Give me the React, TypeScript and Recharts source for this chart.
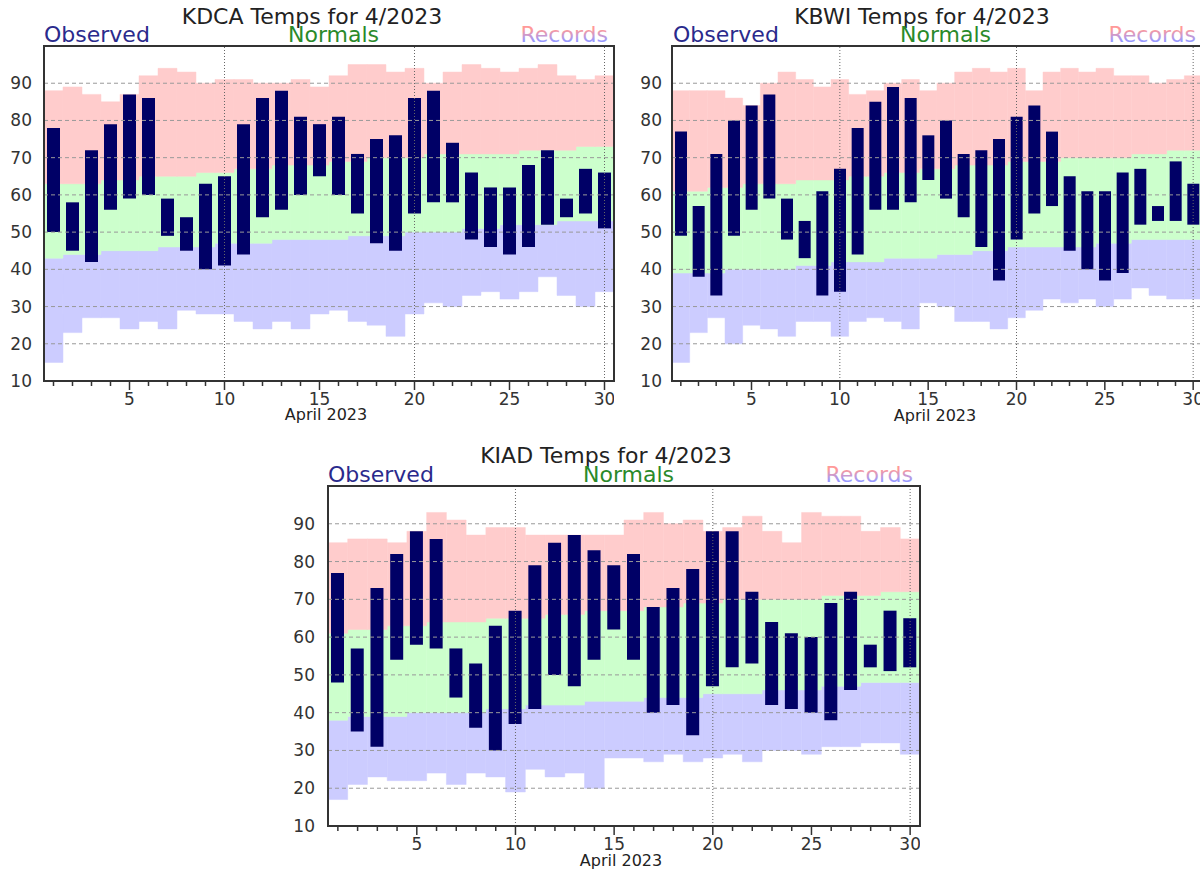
import { ComposedChart, Bar, XAxis, YAxis, ReferenceLine } from 'recharts'

const FONT = '"DejaVu Sans", Verdana, sans-serif'
const PINK  = '#ffcccc'
const GREEN = '#ccffcc'
const BLUE  = '#ccccff'
const NAVY  = '#000066'

const days = [1, 2, 3, 4, 5, 6, 7, 8, 9, 10, 11, 12, 13, 14, 15, 16, 17, 18, 19, 20, 21, 22, 23, 24, 25, 26, 27, 28, 29, 30]
const yTicks = [10, 20, 30, 40, 50, 60, 70, 80, 90]
const gridTemps = [20, 30, 40, 50, 60, 70, 80, 90]
const gridDays = [10, 20, 30]

// KDCA
const dcaObsHi  = [78, 58, 72, 79, 87, 86, 59, 54, 63, 65, 79, 86, 88, 81, 79, 81, 71, 75, 76, 86, 88, 74, 66, 62, 62, 68, 72, 59, 67, 66]
const dcaObsLo  = [50, 45, 42, 56, 59, 60, 49, 45, 40, 41, 44, 54, 56, 60, 65, 60, 55, 47, 45, 55, 58, 58, 48, 46, 44, 46, 52, 54, 55, 51]
const dcaRecHi  = [88, 89, 87, 85, 87, 92, 94, 93, 90, 91, 91, 90, 90, 91, 89, 92, 95, 95, 93, 94, 90, 93, 95, 94, 93, 94, 95, 92, 91, 92]
const dcaNormHi = [63, 63, 63, 64, 64, 65, 65, 65, 66, 66, 67, 67, 68, 68, 68, 69, 69, 70, 70, 70, 71, 71, 71, 71, 71, 72, 72, 72, 73, 73]
const dcaNormLo = [43, 44, 44, 45, 45, 45, 46, 46, 46, 47, 47, 47, 48, 48, 48, 48, 49, 49, 49, 50, 50, 50, 51, 51, 52, 52, 52, 53, 53, 53]
const dcaRecLo  = [15, 23, 27, 27, 24, 26, 24, 29, 28, 28, 26, 24, 26, 24, 28, 29, 26, 25, 22, 28, 31, 30, 33, 34, 32, 34, 38, 33, 30, 34]

// KBWI
const bwiObsHi  = [77, 57, 71, 80, 84, 87, 59, 53, 61, 67, 78, 85, 89, 86, 76, 80, 71, 72, 75, 81, 84, 77, 65, 61, 61, 66, 67, 57, 69, 63]
const bwiObsLo  = [49, 38, 33, 49, 56, 59, 48, 43, 33, 34, 44, 56, 56, 58, 64, 59, 54, 46, 37, 48, 55, 57, 45, 40, 37, 39, 52, 53, 53, 52]
const bwiRecHi  = [88, 88, 88, 86, 84, 90, 93, 91, 89, 91, 87, 88, 90, 91, 88, 90, 93, 94, 93, 94, 88, 93, 94, 93, 94, 92, 92, 90, 91, 92]
const bwiNormHi = [61, 61, 62, 62, 63, 63, 63, 64, 64, 64, 65, 65, 66, 66, 67, 67, 68, 68, 68, 69, 69, 69, 70, 70, 70, 70, 71, 71, 72, 72]
const bwiNormLo = [39, 39, 39, 40, 40, 40, 40, 41, 41, 42, 42, 42, 43, 43, 43, 44, 44, 45, 45, 46, 46, 46, 46, 46, 47, 47, 48, 48, 48, 48]
const bwiRecLo  = [15, 23, 27, 20, 25, 24, 22, 26, 26, 22, 26, 27, 26, 24, 31, 30, 26, 26, 24, 27, 29, 32, 31, 32, 30, 32, 35, 33, 32, 32]

// KIAD
const iadObsHi  = [77, 57, 73, 82, 88, 86, 57, 53, 63, 67, 79, 85, 87, 83, 79, 82, 68, 73, 78, 88, 88, 72, 64, 61, 60, 69, 72, 58, 67, 65]
const iadObsLo  = [48, 35, 31, 54, 58, 57, 44, 36, 30, 37, 41, 50, 47, 54, 62, 54, 40, 42, 34, 47, 52, 53, 42, 41, 40, 38, 46, 52, 51, 52]
const iadRecHi  = [85, 86, 86, 85, 88, 93, 91, 87, 89, 89, 87, 87, 87, 87, 87, 91, 93, 90, 91, 88, 89, 92, 88, 85, 93, 92, 92, 88, 89, 86]
const iadNormHi = [61, 62, 62, 63, 63, 64, 64, 64, 65, 65, 65, 66, 66, 67, 67, 67, 68, 68, 69, 69, 70, 70, 70, 70, 70, 71, 71, 71, 72, 72]
const iadNormLo = [38, 39, 39, 39, 40, 40, 40, 40, 41, 41, 42, 42, 42, 43, 43, 43, 44, 44, 44, 45, 45, 45, 46, 46, 46, 47, 47, 48, 48, 48]
const iadRecLo  = [17, 21, 23, 22, 22, 24, 21, 24, 23, 19, 25, 23, 24, 20, 28, 28, 27, 29, 27, 28, 29, 27, 30, 30, 29, 31, 31, 32, 32, 29]

interface Station {
  obsHi: number[]
  obsLo: number[]
  recHi: number[]
  normHi: number[]
  normLo: number[]
  recLo: number[]
}

const DCA: Station = { obsHi: dcaObsHi, obsLo: dcaObsLo, recHi: dcaRecHi, normHi: dcaNormHi, normLo: dcaNormLo, recLo: dcaRecLo }
const BWI: Station = { obsHi: bwiObsHi, obsLo: bwiObsLo, recHi: bwiRecHi, normHi: bwiNormHi, normLo: bwiNormLo, recLo: bwiRecLo }
const IAD: Station = { obsHi: iadObsHi, obsLo: iadObsLo, recHi: iadRecHi, normHi: iadNormHi, normLo: iadNormLo, recLo: iadRecLo }

function DayTick({ x, y, payload }: any) {
  const v = Number(payload?.value)
  const major = v % 5 === 0
  return (
    <g>
      <line x1={x} y1={y} x2={x} y2={y + (major ? 9 : 5)} stroke="#333" strokeWidth={1.5} />
      {major && (
        <text x={x} y={y + 24} textAnchor="middle" fontSize={17} fill="#333" fontFamily={FONT}>
          {v}
        </text>
      )}
    </g>
  )
}

interface PanelProps {
  st: Station
  left: number
  top: number
  yWidth: number
  plotW: number
  plotH: number
  barSize: number
  tickGap: number
}

function Panel({ st, left, top, yWidth, plotW, plotH, barSize, tickGap }: PanelProps) {
  const rows = days.map((d, i) => ({
    day: d,
    blue: [st.recLo[i], st.normLo[i]],
    green: [st.normLo[i], st.normHi[i]],
    pink: [st.normHi[i], st.recHi[i]],
    obs: [st.obsLo[i], st.obsHi[i]],
  }))
  const band = plotW / days.length - 0.02
  const marginTop = 46
  const width = yWidth + plotW
  const height = marginTop + plotH + 40

  return (
    <div style={{ position: 'absolute', left, top }}>
      <ComposedChart
        width={width}
        height={height}
        data={rows}
        margin={{ top: marginTop, right: 0, bottom: 0, left: 0 }}
        barCategoryGap={0}
        barGap={0}
      >
        <XAxis
          xAxisId="obs"
          dataKey="day"
          interval={0}
          axisLine={false}
          tickLine={false}
          tickSize={0}
          tickMargin={0}
          height={40}
          tick={<DayTick />}
        />
        <XAxis xAxisId="blue" dataKey="day" hide height={0} />
        <XAxis xAxisId="green" dataKey="day" hide height={0} />
        <XAxis xAxisId="pink" dataKey="day" hide height={0} />
        <YAxis
          type="number"
          domain={[10, 100]}
          ticks={yTicks}
          allowDataOverflow
          axisLine={false}
          tickLine={false}
          tickSize={0}
          tickMargin={tickGap}
          width={yWidth}
          tick={{ fontSize: 17, fill: '#333', fontFamily: FONT }}
        />
        <Bar xAxisId="blue" dataKey="blue" fill={BLUE} stroke={BLUE} strokeWidth={0.5} barSize={band} isAnimationActive={false} />
        <Bar xAxisId="green" dataKey="green" fill={GREEN} stroke={GREEN} strokeWidth={0.5} barSize={band} isAnimationActive={false} />
        <Bar xAxisId="pink" dataKey="pink" fill={PINK} stroke={PINK} strokeWidth={0.5} barSize={band} isAnimationActive={false} />
        <Bar xAxisId="obs" dataKey="obs" fill={NAVY} barSize={barSize} isAnimationActive={false} />
        {gridTemps.map((t) => (
          <ReferenceLine key={'h' + t} xAxisId="obs" y={t} stroke="#999" strokeDasharray="4 3" />
        ))}
        {gridDays.map((d) => (
          <ReferenceLine key={'v' + d} xAxisId="obs" x={d} stroke="#666" strokeDasharray="1 2" />
        ))}
      </ComposedChart>
    </div>
  )
}

function Header({ title, cx, obsX, normX, recX, titleY, legendY }: any) {
  return (
    <g fontFamily={FONT} fontSize={22}>
      <text x={cx} y={titleY} textAnchor="middle" fill="#222">{title}</text>
      <text x={obsX} y={legendY} fill="#2a2a8c">Observed</text>
      <text x={normX} y={legendY} fill="#2a8a2a">Normals</text>
      <text x={recX} y={legendY} textAnchor="end" fill="url(#recGrad)">Records</text>
    </g>
  )
}

export default function App() {
  return (
    <div style={{ position: 'absolute', left: 0, top: 0, width: 1200, height: 869, overflow: 'hidden', background: '#fff' }}>
      <Panel st={DCA} left={0} top={0} yWidth={44} plotW={570} plotH={335} barSize={13} tickGap={12} />
      <Panel st={BWI} left={630} top={0} yWidth={42} plotW={530} plotH={335} barSize={12} tickGap={10} />
      <Panel st={IAD} left={280} top={440} yWidth={48} plotW={592} plotH={340} barSize={13} tickGap={13} />
      <svg width={1200} height={869} style={{ position: 'absolute', left: 0, top: 0, pointerEvents: 'none' }}>
        <defs>
          <linearGradient id="recGrad" x1="0" y1="0" x2="0" y2="1">
            <stop offset="0.3" stopColor="#ff9999" />
            <stop offset="0.75" stopColor="#9999ff" />
          </linearGradient>
        </defs>
        <Header title="KDCA Temps for 4/2023" cx={312} obsX={44} normX={288} recX={608} titleY={24} legendY={42} />
        <Header title="KBWI Temps for 4/2023" cx={922} obsX={673} normX={900} recX={1196} titleY={24} legendY={42} />
        <Header title="KIAD Temps for 4/2023" cx={606} obsX={328} normX={583} recX={913} titleY={463} legendY={482} />
        <g fontFamily={FONT} fontSize={16} fill="#222" textAnchor="middle">
          <text x={326} y={420}>April 2023</text>
          <text x={935} y={421}>April 2023</text>
          <text x={621} y={866}>April 2023</text>
        </g>
        <g fill="none" stroke="#333" strokeWidth={2}>
          <rect x={44} y={46} width={570} height={335} />
          <rect x={672} y={46} width={530} height={335} />
          <rect x={328} y={486} width={592} height={340} />
        </g>
      </svg>
    </div>
  )
}
